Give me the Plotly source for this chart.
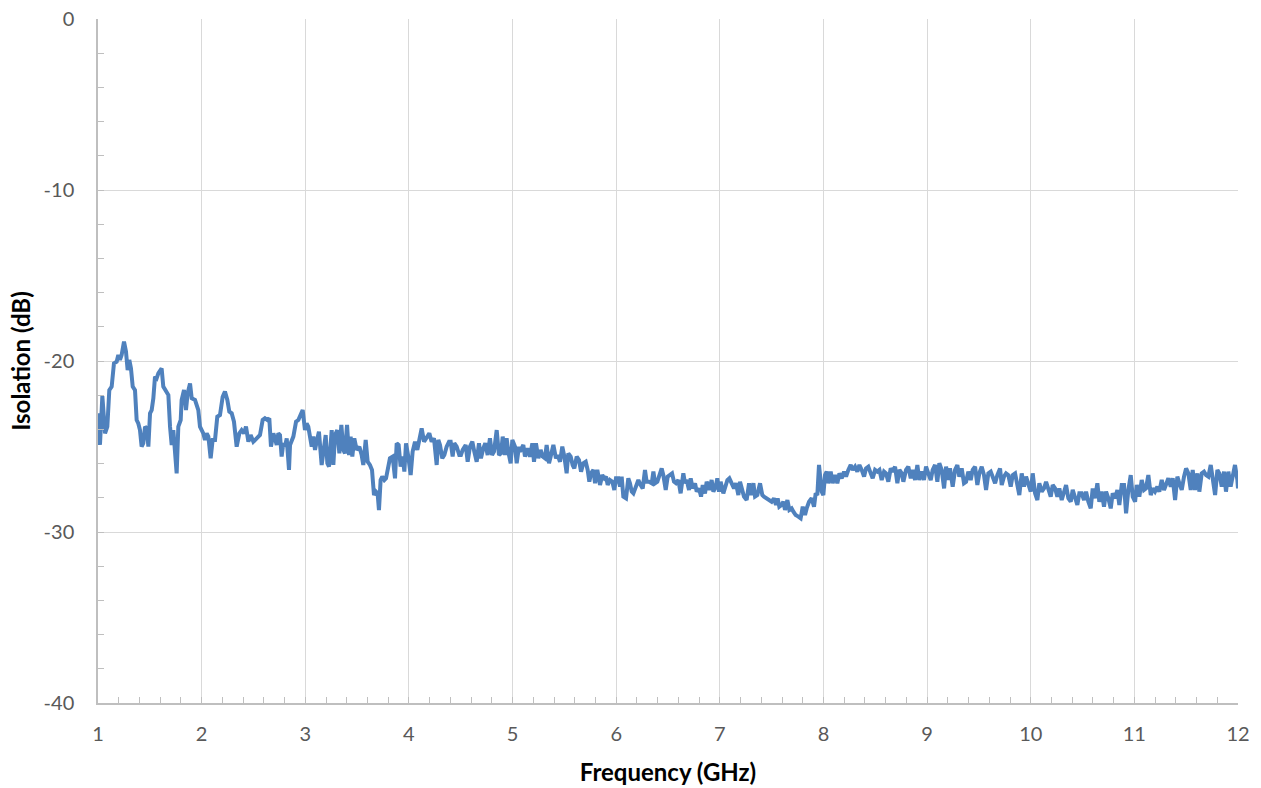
import plotly.graph_objects as go

# Frequency (GHz) sample points
freq_ghz = [
    1.000, 1.019, 1.042, 1.068, 1.090, 1.109, 1.132, 1.154, 1.180, 1.196,
    1.212, 1.228, 1.251, 1.270, 1.286, 1.302, 1.318, 1.335, 1.357, 1.373,
    1.389, 1.405, 1.421, 1.437, 1.454, 1.470, 1.486, 1.502, 1.518, 1.534,
    1.550, 1.566, 1.582, 1.598, 1.614, 1.630, 1.647, 1.679, 1.695, 1.711,
    1.727, 1.743, 1.759, 1.775, 1.798, 1.807, 1.830, 1.849, 1.865, 1.888,
    1.904, 1.936, 1.968, 1.984, 2.016, 2.032, 2.049, 2.065, 2.087, 2.106,
    2.129, 2.151, 2.177, 2.203, 2.225, 2.248, 2.267, 2.290, 2.312, 2.338,
    2.364, 2.386, 2.409, 2.428, 2.451, 2.473, 2.499, 2.531, 2.563, 2.589,
    2.611, 2.634, 2.653, 2.669, 2.692, 2.708, 2.724, 2.740, 2.756, 2.772,
    2.788, 2.804, 2.821, 2.843, 2.853, 2.885, 2.911, 2.933, 2.949, 2.975,
    2.997, 3.013, 3.029, 3.045, 3.062, 3.078, 3.094, 3.110, 3.132, 3.158,
    3.174, 3.197, 3.213, 3.229, 3.255, 3.271, 3.287, 3.309, 3.329, 3.348,
    3.367, 3.383, 3.403, 3.422, 3.438, 3.454, 3.473, 3.496, 3.522, 3.544,
    3.560, 3.583, 3.602, 3.624, 3.644, 3.663, 3.682, 3.698, 3.711, 3.727,
    3.743, 3.763, 3.779, 3.801, 3.817, 3.843, 3.866, 3.882, 3.901, 3.920,
    3.940, 3.956, 3.972, 3.994, 4.017, 4.036, 4.059, 4.081, 4.107, 4.123,
    4.146, 4.171, 4.197, 4.219, 4.242, 4.268, 4.284, 4.300, 4.322, 4.342,
    4.364, 4.387, 4.403, 4.422, 4.438, 4.461, 4.486, 4.502, 4.519, 4.548,
    4.567, 4.589, 4.612, 4.631, 4.654, 4.676, 4.695, 4.718, 4.737, 4.760,
    4.782, 4.802, 4.821, 4.847, 4.869, 4.889, 4.905, 4.927, 4.943, 4.959,
    4.982, 4.998, 5.024, 5.040, 5.062,
    5.072, 5.104, 5.120, 5.143, 5.168, 5.191, 5.207, 5.226, 5.249, 5.271,
    5.291, 5.313, 5.329, 5.352, 5.368, 5.394, 5.419, 5.435, 5.458, 5.480,
    5.500, 5.522, 5.538, 5.561, 5.580, 5.596, 5.619, 5.641, 5.661, 5.683,
    5.706, 5.725, 5.741, 5.757, 5.780, 5.796, 5.818, 5.844, 5.866, 5.886,
    5.902, 5.918, 5.940, 5.963, 5.982, 5.998, 6.021, 6.037, 6.053, 6.069,
    6.095, 6.117, 6.133, 6.150, 6.166, 6.191, 6.214, 6.236, 6.256, 6.278,
    6.294, 6.317, 6.343, 6.359, 6.375, 6.397, 6.416, 6.439, 6.455, 6.478,
    6.497, 6.519, 6.539, 6.558, 6.577, 6.600, 6.622, 6.648, 6.664, 6.680,
    6.703, 6.719, 6.738, 6.761, 6.777, 6.799, 6.819, 6.835, 6.857, 6.873,
    6.899, 6.921, 6.938, 6.960, 6.976, 6.992, 7.008, 7.034, 7.050, 7.073,
    7.092, 7.114, 7.137, 7.156, 7.179, 7.195, 7.217, 7.233, 7.259, 7.282,
    7.301, 7.324, 7.340, 7.362, 7.388, 7.410, 7.426, 7.452, 7.478, 7.500,
    7.523, 7.542, 7.558, 7.574, 7.597, 7.613, 7.629, 7.652, 7.671, 7.693,
    7.710, 7.732, 7.758, 7.780, 7.800, 7.822, 7.838, 7.861, 7.886, 7.909,
    7.925, 7.941, 7.957,
    7.983, 7.999, 8.015, 8.031, 8.047, 8.070, 8.089, 8.112, 8.134, 8.154,
    8.176, 8.199, 8.218, 8.240, 8.263, 8.282, 8.305, 8.327, 8.347, 8.369,
    8.392, 8.411, 8.433, 8.456, 8.475, 8.498, 8.520, 8.540, 8.562, 8.585,
    8.604, 8.626, 8.649, 8.668, 8.691, 8.713, 8.733, 8.755, 8.771, 8.797,
    8.819, 8.842, 8.861, 8.884, 8.906, 8.925, 8.948, 8.970, 8.990, 9.012,
    9.035, 9.054, 9.077, 9.099, 9.118, 9.141, 9.164, 9.183, 9.205, 9.221,
    9.247, 9.270, 9.292, 9.311, 9.334, 9.356, 9.376, 9.398, 9.421, 9.440,
    9.463, 9.485, 9.504, 9.527, 9.549, 9.569, 9.591, 9.614, 9.633, 9.656,
    9.678, 9.704, 9.720, 9.742, 9.762, 9.784, 9.807, 9.826, 9.849, 9.871,
    9.890, 9.913, 9.935, 9.955, 9.977, 10.000, 10.019, 10.042, 10.064, 10.083,
    10.106, 10.128, 10.148, 10.170, 10.193, 10.212, 10.235, 10.257, 10.276, 10.299,
    10.321, 10.341, 10.363, 10.386, 10.405, 10.428, 10.450, 10.469, 10.492, 10.514,
    10.534, 10.556, 10.579, 10.598, 10.620, 10.643, 10.662, 10.685, 10.707, 10.727,
    10.749, 10.772, 10.791, 10.814, 10.836, 10.855, 10.878, 10.900, 10.920, 10.942,
    10.965, 10.984, 11.007, 11.023, 11.048, 11.071, 11.093, 11.112, 11.135, 11.158,
    11.177, 11.199, 11.222, 11.241, 11.264, 11.286, 11.306, 11.328, 11.351, 11.370,
    11.393, 11.415, 11.434, 11.457, 11.479, 11.499, 11.521, 11.544, 11.563, 11.585,
    11.608, 11.627, 11.650, 11.672, 11.692, 11.714, 11.737, 11.756, 11.779, 11.801,
    11.820, 11.843, 11.865, 11.884, 11.907, 11.929, 11.949, 11.971, 11.994, 12.000,
]

# Isolation (dB) at each frequency
isolation_db = [
    -23.06, -24.91, -22.05, -24.23, -23.84, -21.70, -21.50, -20.14, -20.04, -19.65,
    -19.94, -19.65, -18.87, -19.45, -20.53, -19.94, -20.43, -21.50, -21.70, -23.45,
    -23.65, -24.04, -25.01, -24.81, -23.84, -23.94, -25.01, -23.06, -22.87, -22.18,
    -20.92, -21.01, -20.72, -20.53, -20.43, -21.50, -21.70, -21.99, -23.84, -24.91,
    -24.04, -25.20, -26.57, -23.84, -23.45, -22.28, -21.70, -22.87, -21.89, -21.31,
    -22.18, -22.28, -22.87, -23.84, -24.23, -24.62, -24.23, -24.42, -25.69, -24.62,
    -24.62, -23.26, -23.16, -22.09, -21.79, -22.28, -22.96, -23.06, -23.55, -25.01,
    -24.23, -24.04, -24.23, -23.84, -24.72, -24.33, -24.72, -24.52, -24.33, -23.45,
    -23.35, -23.45, -23.35, -25.01, -24.23, -24.52, -24.91, -24.23, -24.33, -25.59,
    -24.81, -25.01, -24.52, -26.37, -24.91, -24.42, -23.55, -23.45, -23.26, -22.87,
    -24.04, -23.65, -23.84, -24.42, -25.01, -24.42, -25.20, -24.72, -24.13, -26.08,
    -25.30, -24.33, -25.98, -26.18, -24.04, -26.08, -24.33, -24.04, -25.40, -23.74,
    -25.20, -25.40, -23.74, -25.50, -24.42, -25.59, -24.52, -25.20, -25.01, -25.50,
    -26.08, -24.62, -25.89, -26.08, -26.37, -27.84, -27.64, -27.74, -28.72, -26.96,
    -26.76, -26.96, -26.86, -26.18, -25.69, -25.59, -26.86, -24.81, -24.91, -26.18,
    -25.59, -26.47, -24.81, -25.59, -26.67, -25.30, -24.72, -25.20, -24.52, -23.94,
    -24.72, -24.52, -24.23, -24.72, -24.52, -26.08, -24.62, -24.91, -25.69, -25.50,
    -25.01, -24.72, -24.72, -25.59, -24.81, -25.01, -25.50, -25.50, -25.20, -24.91,
    -25.89, -25.01, -24.72, -25.30, -25.89, -24.81, -25.69, -25.11, -24.81, -25.50,
    -24.52, -25.50, -25.30, -24.04, -25.50, -25.40, -24.42, -25.50, -24.52, -25.30,
    -25.98, -24.62, -25.01, -25.98, -25.01,
    -25.30, -24.91, -25.59, -25.11, -25.59, -24.81, -25.89, -24.81, -25.69, -25.20,
    -25.59, -25.69, -24.91, -25.98, -25.59, -24.91, -25.69, -25.50, -25.89, -25.01,
    -25.59, -26.57, -25.40, -25.59, -26.08, -26.28, -25.59, -25.79, -26.47, -25.98,
    -25.89, -26.37, -27.06, -26.57, -26.37, -27.15, -26.37, -27.25, -26.67, -26.86,
    -26.76, -27.25, -26.96, -27.06, -27.54, -26.86, -26.86, -27.35, -26.76, -27.93,
    -28.03, -26.86, -27.15, -27.64, -27.74, -27.35, -26.96, -27.25, -27.45, -26.37,
    -27.06, -27.06, -27.15, -26.47, -27.15, -27.06, -26.76, -26.28, -26.67, -27.54,
    -26.76, -26.67, -26.57, -27.06, -27.15, -26.96, -27.74, -26.57, -27.15, -26.96,
    -27.54, -26.86, -27.45, -27.15, -27.64, -27.45, -27.93, -27.25, -27.74, -27.06,
    -27.54, -26.96, -27.64, -27.35, -26.86, -27.64, -27.06, -27.74, -27.35, -26.96,
    -26.86, -27.15, -27.45, -27.15, -27.84, -27.06, -27.54, -27.93, -28.13, -27.15,
    -27.84, -27.15, -27.93, -27.84, -27.15, -27.84, -27.93, -28.03, -28.13, -28.23,
    -28.03, -28.42, -28.03, -28.52, -28.42, -28.23, -28.71, -28.13, -28.71, -28.62,
    -28.81, -29.01, -29.10, -29.20, -28.52, -29.01, -28.62, -28.23, -28.03, -28.52,
    -27.74, -27.84, -26.08,
    -27.64, -27.84, -26.67, -26.47, -27.15, -26.47, -27.15, -26.67, -27.15, -26.57,
    -26.86, -26.47, -26.76, -26.37, -26.08, -26.37, -26.18, -26.47, -26.08, -26.37,
    -26.76, -26.28, -26.18, -26.57, -26.86, -26.37, -26.47, -26.37, -26.96, -26.47,
    -26.57, -27.06, -26.28, -26.47, -26.18, -27.15, -26.37, -26.57, -27.06, -26.37,
    -26.18, -26.86, -26.37, -26.96, -26.08, -26.96, -26.47, -26.96, -26.18, -26.57,
    -26.96, -26.37, -26.08, -27.06, -25.98, -26.37, -27.45, -26.18, -26.96, -26.28,
    -27.35, -26.37, -26.08, -26.76, -26.28, -27.15, -27.06, -26.47, -26.96, -26.37,
    -26.18, -27.25, -26.57, -26.18, -26.67, -27.54, -26.57, -26.47, -26.76, -27.15,
    -26.67, -26.28, -27.25, -26.76, -26.57, -26.67, -27.35, -26.67, -26.57, -27.25,
    -27.84, -26.57, -27.35, -26.76, -27.25, -27.64, -26.57, -27.74, -28.13, -27.15,
    -27.64, -27.45, -27.06, -27.45, -27.93, -27.25, -27.45, -27.93, -27.45, -28.13,
    -27.64, -27.25, -28.03, -28.23, -27.54, -27.93, -28.42, -27.74, -27.74, -28.13,
    -27.64, -28.23, -28.62, -27.45, -28.03, -27.15, -28.23, -27.64, -28.52, -27.64,
    -28.03, -28.62, -27.74, -28.03, -27.54, -28.42, -27.25, -27.25, -28.91, -27.54,
    -26.67, -27.93, -28.23, -27.25, -27.93, -26.96, -27.54, -27.45, -26.67, -27.84,
    -27.45, -27.64, -27.35, -27.64, -26.96, -27.54, -27.25, -26.86, -27.35, -26.86,
    -28.13, -26.76, -27.15, -27.54, -26.76, -26.28, -26.57, -27.54, -26.37, -27.54,
    -26.57, -27.64, -26.57, -26.47, -26.67, -26.76, -26.08, -26.96, -27.84, -26.37,
    -26.57, -27.35, -26.47, -27.64, -26.47, -27.35, -26.57, -26.08, -26.96, -27.45,
]

x_tick_vals = [1, 2, 3, 4, 5, 6, 7, 8, 9, 10, 11, 12]
x_tick_text = ["1", "2", "3", "4", "5", "6", "7", "8", "9", "10", "11", "12"]
y_tick_vals = [0, -10, -20, -30, -40]
y_tick_text = ["0", "-10", "-20", "-30", "-40"]

x_title = "Frequency (GHz)"
y_title = "Isolation (dB)"

LINE_COLOR = "#4F81BD"
GRID_COLOR = "#D9D9D9"
AXIS_COLOR = "#BFBFBF"
TEXT_COLOR = "#595959"
FONT = "Lato, 'Open Sans', sans-serif"

fig = go.Figure()
fig.add_trace(go.Scatter(
    x=freq_ghz,
    y=isolation_db,
    mode="lines",
    line=dict(color=LINE_COLOR, width=4),
    showlegend=False,
    hoverinfo="x+y",
))

fig.update_layout(
    width=1261,
    height=788,
    margin=dict(l=98, r=23, t=19, b=85),
    paper_bgcolor="white",
    plot_bgcolor="white",
    font=dict(family=FONT, color=TEXT_COLOR, size=20),
    showlegend=False,
)

fig.update_xaxes(
    range=[1, 12],
    tickmode="array",
    tickvals=x_tick_vals,
    ticktext=x_tick_text,
    ticks="inside",
    ticklen=6,
    tickwidth=1.3,
    tickcolor=AXIS_COLOR,
    showline=True,
    linecolor=AXIS_COLOR,
    linewidth=1.5,
    showgrid=True,
    gridcolor=GRID_COLOR,
    gridwidth=1.3,
    zeroline=False,
    automargin=False,
    ticklabeloverflow="allow",
    ticklabelstandoff=12,
    tickfont=dict(family=FONT, size=20, color=TEXT_COLOR),
    minor=dict(dtick=0.2, ticks="inside", ticklen=6, tickwidth=1.3,
               tickcolor=AXIS_COLOR, showgrid=False),
    title=dict(text="<b>" + x_title + "</b>", standoff=20,
               font=dict(family=FONT, size=24, color="#000000")),
)

fig.update_yaxes(
    range=[-40, 0],
    tickmode="array",
    tickvals=y_tick_vals,
    ticktext=y_tick_text,
    ticks="inside",
    ticklen=6,
    tickwidth=1.3,
    tickcolor=AXIS_COLOR,
    showline=True,
    linecolor=AXIS_COLOR,
    linewidth=1.5,
    showgrid=True,
    gridcolor=GRID_COLOR,
    gridwidth=1.3,
    zeroline=False,
    automargin=False,
    ticklabeloverflow="allow",
    ticklabelstandoff=18,
    tickfont=dict(family=FONT, size=20, color=TEXT_COLOR),
    minor=dict(dtick=2, ticks="inside", ticklen=6, tickwidth=1.3,
               tickcolor=AXIS_COLOR, showgrid=False),
    title=dict(text="<b>" + y_title + "</b>", standoff=6,
               font=dict(family=FONT, size=24, color="#000000")),
)

# remove the default 8px page margin so the figure fills the window exactly
fig.write_html(
    "out.html",
    config={"displayModeBar": False},
    post_script="document.body.style.margin='0';document.body.style.overflow='hidden';",
)
